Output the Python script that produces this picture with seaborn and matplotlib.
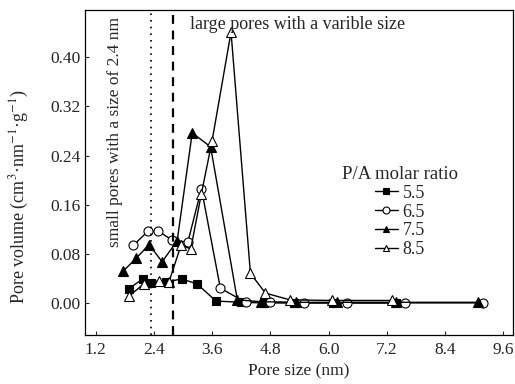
import numpy as np
import pandas as pd
import matplotlib
matplotlib.use("Agg")
import matplotlib.pyplot as plt
import seaborn as sns
from matplotlib.lines import Line2D

# pore size distribution for each P/A molar ratio
x_55 = [1.88, 2.17, 2.35, 2.65, 2.97, 3.29, 3.68, 4.20, 4.66, 5.28, 6.10, 7.40]
y_55 = [0.023, 0.039, 0.032, 0.034, 0.039, 0.031, 0.003, 0.001, 0.0, 0.0, 0.0, 0.0]

x_65 = [1.98, 2.28, 2.49, 2.78, 3.10, 3.38, 3.77, 4.29, 4.80, 5.50, 6.38, 7.58, 9.19]
y_65 = [0.094, 0.117, 0.117, 0.102, 0.099, 0.186, 0.024, 0.001, 0.001, 0.0, 0.0, 0.0, 0.0]

x_75 = [1.77, 2.04, 2.30, 2.57, 2.88, 3.19, 3.57, 4.12, 4.60, 5.32, 6.17, 7.40, 9.08]
y_75 = [0.052, 0.073, 0.095, 0.067, 0.101, 0.277, 0.254, 0.005, 0.002, 0.001, 0.001, 0.001, 0.001]

x_85 = [1.89, 2.19, 2.50, 2.71, 2.96, 3.16, 3.38, 3.60, 3.99, 4.39, 4.70, 5.20, 6.07, 7.30]
y_85 = [0.011, 0.031, 0.036, 0.034, 0.094, 0.088, 0.178, 0.264, 0.441, 0.048, 0.016, 0.005, 0.004, 0.004]

ratios = ["5.5", "6.5", "7.5", "8.5"]
xticks = [1.2, 2.4, 3.6, 4.8, 6.0, 7.2, 8.4, 9.6]
yticks = [0.00, 0.08, 0.16, 0.24, 0.32, 0.40]

series = [(x_55, y_55), (x_65, y_65), (x_75, y_75), (x_85, y_85)]
markers = ["s", "o", "^", "^"]
faces = ["black", "white", "black", "white"]
msizes = [5.5, 6.5, 6.5, 6.5]

sns.set_style("ticks")
plt.rcParams["font.family"] = ["Liberation Serif", "DejaVu Serif"]
plt.rcParams["mathtext.fontset"] = "stix"
plt.rcParams["xtick.direction"] = "in"
plt.rcParams["ytick.direction"] = "in"

fig = plt.figure(figsize=(5.15, 3.84), dpi=100)
ax = fig.add_axes([0.165, 0.128, 0.831, 0.846])

for (xs, ys), m, fc, ms in zip(series, markers, faces, msizes):
    df = pd.DataFrame({"x": xs, "y": ys})
    sns.lineplot(data=df, x="x", y="y", sort=False, ax=ax, color="black",
                 linewidth=1.0, marker=m, markersize=ms, markerfacecolor=fc,
                 markeredgecolor="black", markeredgewidth=0.8)

ax.axvline(2.35, color="black", linestyle=(0, (1, 3)), linewidth=1.2)
ax.axvline(2.80, color="black", linestyle=(0, (4, 3)), linewidth=1.6)

ax.text(0.245, 0.982, "large pores with a varible size", transform=ax.transAxes,
        ha="left", va="top", fontsize=13)
ax.text(0.07, 0.625, "small pores with a size of 2.4 nm", transform=ax.transAxes,
        ha="center", va="center", rotation=90, fontsize=12.5)

ax.set_xlim(0.98, 9.8)
ax.set_ylim(-0.052, 0.477)
ax.set_xticks(xticks)
ax.set_xticklabels([f"{t:.1f}" for t in xticks], fontsize=12.5)
ax.set_yticks(yticks)
ax.set_yticklabels([f"{t:.2f}" for t in yticks], fontsize=12.5)
ax.tick_params(axis="x", length=3, width=0.8, pad=5)
ax.tick_params(axis="y", length=3, width=0.8, pad=3)
for s in ax.spines.values():
    s.set_linewidth(0.9)
    s.set_color("black")

ax.set_xlabel("Pore size (nm)", fontsize=12.5, labelpad=4)
ax.set_ylabel("Pore volume (cm$^{3}$·nm$^{-1}$·g$^{-1}$)", fontsize=13)
ax.yaxis.set_label_coords(-0.125, 0.425)

handles = [Line2D([], [], color="black", linewidth=1.0, marker=m, markersize=5,
                  markerfacecolor=fc, markeredgecolor="black", markeredgewidth=0.8)
           for m, fc in zip(markers, faces)]
leg = ax.legend(handles, ratios, title="P/A molar ratio", frameon=False,
                loc="upper left", bbox_to_anchor=(0.60, 0.52), fontsize=13,
                title_fontsize=13.5, handlelength=1.3, handletextpad=0.25,
                labelspacing=0.1, borderaxespad=0, borderpad=0)

fig.savefig("out.png", dpi=100)
